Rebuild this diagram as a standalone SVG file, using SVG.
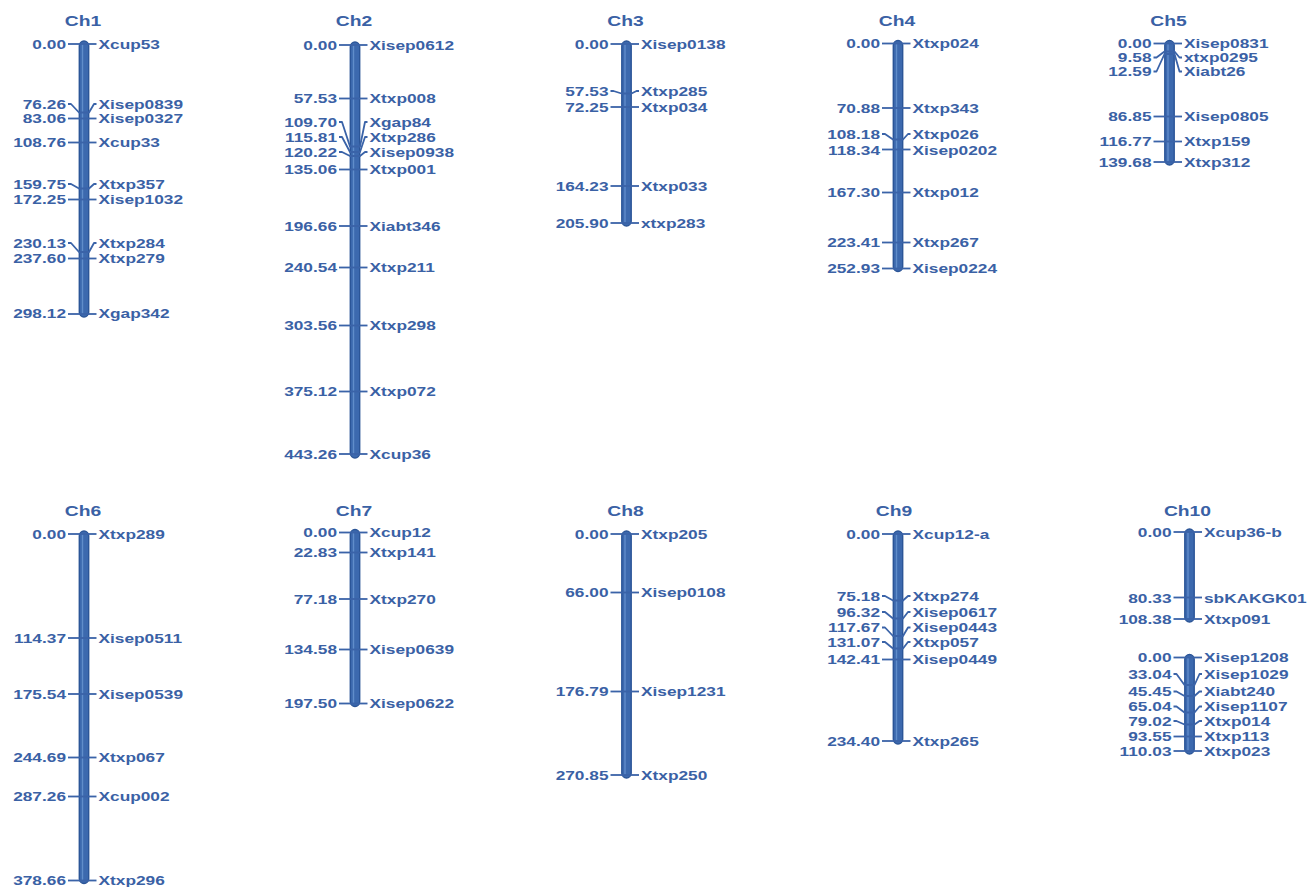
<svg xmlns="http://www.w3.org/2000/svg" width="1309" height="887" viewBox="0 0 1309 887">
<style>
.bar{fill:#3c69ae;stroke:#2b5597;stroke-width:1.4}
.hl{stroke:#6a96d2;stroke-width:1.4;opacity:.8}
.tk{fill:none;stroke:#3a63a8;stroke-width:1.8;stroke-linejoin:round}
.n,.l,.t{font-family:"Liberation Sans",Arial,sans-serif;font-weight:bold;fill:#3a61a5}
.n{font-size:13px;text-anchor:end}
.l{font-size:13px;text-anchor:start}
.t{font-size:14.5px;text-anchor:middle}
</style>
<rect width="1309" height="887" fill="#ffffff"/>

<g id="ch1">
<text class="t" transform="translate(83,26) scale(1.33,1)">Ch1</text>
<rect class="bar" x="79.3" y="41" width="9.4" height="276" rx="4.7"/>
<line class="hl" x1="82.5" y1="44" x2="82.5" y2="314"/>
<g class="tk">
<path d="M68 44H96.5"/>
<path d="M68 104L71 104L79 112.5L89 112.5L94 104L96.5 104"/>
<path d="M68 118.5H96.5"/>
<path d="M68 142.5H96.5"/>
<path d="M68 184L71 184L79 188.5L89 188.5L94 184L96.5 184"/>
<path d="M68 199.5H96.5"/>
<path d="M68 243L71 243L79 252L89 252L94 243L96.5 243"/>
<path d="M68 258.5H96.5"/>
<path d="M68 314H96.5"/>
</g>
<text class="n" transform="translate(66,48.5) scale(1.33,1)">0.00</text>
<text class="l" transform="translate(98.5,48.5) scale(1.33,1)">Xcup53</text>
<text class="n" transform="translate(66,108.5) scale(1.33,1)">76.26</text>
<text class="l" transform="translate(98.5,108.5) scale(1.33,1)">Xisep0839</text>
<text class="n" transform="translate(66,123) scale(1.33,1)">83.06</text>
<text class="l" transform="translate(98.5,123) scale(1.33,1)">Xisep0327</text>
<text class="n" transform="translate(66,147) scale(1.33,1)">108.76</text>
<text class="l" transform="translate(98.5,147) scale(1.33,1)">Xcup33</text>
<text class="n" transform="translate(66,188.5) scale(1.33,1)">159.75</text>
<text class="l" transform="translate(98.5,188.5) scale(1.33,1)">Xtxp357</text>
<text class="n" transform="translate(66,204) scale(1.33,1)">172.25</text>
<text class="l" transform="translate(98.5,204) scale(1.33,1)">Xisep1032</text>
<text class="n" transform="translate(66,247.5) scale(1.33,1)">230.13</text>
<text class="l" transform="translate(98.5,247.5) scale(1.33,1)">Xtxp284</text>
<text class="n" transform="translate(66,263) scale(1.33,1)">237.60</text>
<text class="l" transform="translate(98.5,263) scale(1.33,1)">Xtxp279</text>
<text class="n" transform="translate(66,318) scale(1.33,1)">298.12</text>
<text class="l" transform="translate(98.5,318) scale(1.33,1)">Xgap342</text>
</g>

<g id="ch2">
<text class="t" transform="translate(354,26) scale(1.33,1)">Ch2</text>
<rect class="bar" x="350.3" y="42" width="9.4" height="416" rx="4.7"/>
<line class="hl" x1="353.5" y1="45" x2="353.5" y2="455"/>
<g class="tk">
<path d="M339 45H367.5"/>
<path d="M339 98.5H367.5"/>
<path d="M339 122L342 122L350 146.5L360 146.5L365 122L367.5 122"/>
<path d="M339 137L342 137L350 152L360 152L365 137L367.5 137"/>
<path d="M339 152L342 152L350 156L360 156L365 152L367.5 152"/>
<path d="M339 169.5H367.5"/>
<path d="M339 226H367.5"/>
<path d="M339 267.5H367.5"/>
<path d="M339 325.5H367.5"/>
<path d="M339 391.5H367.5"/>
<path d="M339 454H367.5"/>
</g>
<text class="n" transform="translate(337,49.5) scale(1.33,1)">0.00</text>
<text class="l" transform="translate(369.5,49.5) scale(1.33,1)">Xisep0612</text>
<text class="n" transform="translate(337,103) scale(1.33,1)">57.53</text>
<text class="l" transform="translate(369.5,103) scale(1.33,1)">Xtxp008</text>
<text class="n" transform="translate(337,126.5) scale(1.33,1)">109.70</text>
<text class="l" transform="translate(369.5,126.5) scale(1.33,1)">Xgap84</text>
<text class="n" transform="translate(337,141.5) scale(1.33,1)">115.81</text>
<text class="l" transform="translate(369.5,141.5) scale(1.33,1)">Xtxp286</text>
<text class="n" transform="translate(337,156.5) scale(1.33,1)">120.22</text>
<text class="l" transform="translate(369.5,156.5) scale(1.33,1)">Xisep0938</text>
<text class="n" transform="translate(337,174) scale(1.33,1)">135.06</text>
<text class="l" transform="translate(369.5,174) scale(1.33,1)">Xtxp001</text>
<text class="n" transform="translate(337,230.5) scale(1.33,1)">196.66</text>
<text class="l" transform="translate(369.5,230.5) scale(1.33,1)">Xiabt346</text>
<text class="n" transform="translate(337,272) scale(1.33,1)">240.54</text>
<text class="l" transform="translate(369.5,272) scale(1.33,1)">Xtxp211</text>
<text class="n" transform="translate(337,330) scale(1.33,1)">303.56</text>
<text class="l" transform="translate(369.5,330) scale(1.33,1)">Xtxp298</text>
<text class="n" transform="translate(337,396) scale(1.33,1)">375.12</text>
<text class="l" transform="translate(369.5,396) scale(1.33,1)">Xtxp072</text>
<text class="n" transform="translate(337,458.5) scale(1.33,1)">443.26</text>
<text class="l" transform="translate(369.5,458.5) scale(1.33,1)">Xcup36</text>
</g>

<g id="ch3">
<text class="t" transform="translate(625.5,26) scale(1.33,1)">Ch3</text>
<rect class="bar" x="621.8" y="41" width="9.4" height="185" rx="4.7"/>
<line class="hl" x1="625" y1="44" x2="625" y2="223"/>
<g class="tk">
<path d="M610.5 44H639"/>
<path d="M610.5 91L613.5 91L621.5 93.5L631.5 93.5L636.5 91L639 91"/>
<path d="M610.5 107H639"/>
<path d="M610.5 186H639"/>
<path d="M610.5 223H639"/>
</g>
<text class="n" transform="translate(608.5,48.5) scale(1.33,1)">0.00</text>
<text class="l" transform="translate(641,48.5) scale(1.33,1)">Xisep0138</text>
<text class="n" transform="translate(608.5,95.5) scale(1.33,1)">57.53</text>
<text class="l" transform="translate(641,95.5) scale(1.33,1)">Xtxp285</text>
<text class="n" transform="translate(608.5,111.5) scale(1.33,1)">72.25</text>
<text class="l" transform="translate(641,111.5) scale(1.33,1)">Xtxp034</text>
<text class="n" transform="translate(608.5,190.5) scale(1.33,1)">164.23</text>
<text class="l" transform="translate(641,190.5) scale(1.33,1)">Xtxp033</text>
<text class="n" transform="translate(608.5,227.5) scale(1.33,1)">205.90</text>
<text class="l" transform="translate(641,227.5) scale(1.33,1)">xtxp283</text>
</g>

<g id="ch4">
<text class="t" transform="translate(897,26) scale(1.33,1)">Ch4</text>
<rect class="bar" x="893.3" y="40.5" width="9.4" height="231" rx="4.7"/>
<line class="hl" x1="896.5" y1="43.5" x2="896.5" y2="268.5"/>
<g class="tk">
<path d="M882 43.5H910.5"/>
<path d="M882 108H910.5"/>
<path d="M882 134L885 134L893 139.5L903 139.5L908 134L910.5 134"/>
<path d="M882 149.5H910.5"/>
<path d="M882 192.5H910.5"/>
<path d="M882 242.5H910.5"/>
<path d="M882 268.5H910.5"/>
</g>
<text class="n" transform="translate(880,48) scale(1.33,1)">0.00</text>
<text class="l" transform="translate(912.5,48) scale(1.33,1)">Xtxp024</text>
<text class="n" transform="translate(880,112.5) scale(1.33,1)">70.88</text>
<text class="l" transform="translate(912.5,112.5) scale(1.33,1)">Xtxp343</text>
<text class="n" transform="translate(880,138.5) scale(1.33,1)">108.18</text>
<text class="l" transform="translate(912.5,138.5) scale(1.33,1)">Xtxp026</text>
<text class="n" transform="translate(880,154.5) scale(1.33,1)">118.34</text>
<text class="l" transform="translate(912.5,154.5) scale(1.33,1)">Xisep0202</text>
<text class="n" transform="translate(880,197) scale(1.33,1)">167.30</text>
<text class="l" transform="translate(912.5,197) scale(1.33,1)">Xtxp012</text>
<text class="n" transform="translate(880,247) scale(1.33,1)">223.41</text>
<text class="l" transform="translate(912.5,247) scale(1.33,1)">Xtxp267</text>
<text class="n" transform="translate(880,273) scale(1.33,1)">252.93</text>
<text class="l" transform="translate(912.5,273) scale(1.33,1)">Xisep0224</text>
</g>

<g id="ch5">
<text class="t" transform="translate(1168.5,26) scale(1.33,1)">Ch5</text>
<rect class="bar" x="1164.8" y="40.5" width="9.4" height="124.5" rx="4.7"/>
<line class="hl" x1="1168" y1="43.5" x2="1168" y2="162"/>
<g class="tk">
<path d="M1153.5 43.5H1182"/>
<path d="M1153.5 57.5L1156.5 57.5L1164.5 51.5L1174.5 51.5L1179.5 57.5L1182 57.5"/>
<path d="M1153.5 71.5L1156.5 71.5L1164.5 54L1174.5 54L1179.5 71.5L1182 71.5"/>
<path d="M1153.5 116.5H1182"/>
<path d="M1153.5 141.5H1182"/>
<path d="M1153.5 162H1182"/>
</g>
<text class="n" transform="translate(1151.5,48) scale(1.33,1)">0.00</text>
<text class="l" transform="translate(1184,48) scale(1.33,1)">Xisep0831</text>
<text class="n" transform="translate(1151.5,62) scale(1.33,1)">9.58</text>
<text class="l" transform="translate(1184,62) scale(1.33,1)">xtxp0295</text>
<text class="n" transform="translate(1151.5,76) scale(1.33,1)">12.59</text>
<text class="l" transform="translate(1184,76) scale(1.33,1)">Xiabt26</text>
<text class="n" transform="translate(1151.5,121) scale(1.33,1)">86.85</text>
<text class="l" transform="translate(1184,121) scale(1.33,1)">Xisep0805</text>
<text class="n" transform="translate(1151.5,146) scale(1.33,1)">116.77</text>
<text class="l" transform="translate(1184,146) scale(1.33,1)">Xtxp159</text>
<text class="n" transform="translate(1151.5,166.5) scale(1.33,1)">139.68</text>
<text class="l" transform="translate(1184,166.5) scale(1.33,1)">Xtxp312</text>
</g>

<g id="ch6">
<text class="t" transform="translate(83,516) scale(1.33,1)">Ch6</text>
<rect class="bar" x="79.3" y="531" width="9.4" height="352.5" rx="4.7"/>
<line class="hl" x1="82.5" y1="534" x2="82.5" y2="880.5"/>
<g class="tk">
<path d="M68 534H96.5"/>
<path d="M68 638H96.5"/>
<path d="M68 694H96.5"/>
<path d="M68 757.5H96.5"/>
<path d="M68 796.5H96.5"/>
<path d="M68 880.5H96.5"/>
</g>
<text class="n" transform="translate(66,538.5) scale(1.33,1)">0.00</text>
<text class="l" transform="translate(98.5,538.5) scale(1.33,1)">Xtxp289</text>
<text class="n" transform="translate(66,642.5) scale(1.33,1)">114.37</text>
<text class="l" transform="translate(98.5,642.5) scale(1.33,1)">Xisep0511</text>
<text class="n" transform="translate(66,698.5) scale(1.33,1)">175.54</text>
<text class="l" transform="translate(98.5,698.5) scale(1.33,1)">Xisep0539</text>
<text class="n" transform="translate(66,762) scale(1.33,1)">244.69</text>
<text class="l" transform="translate(98.5,762) scale(1.33,1)">Xtxp067</text>
<text class="n" transform="translate(66,801) scale(1.33,1)">287.26</text>
<text class="l" transform="translate(98.5,801) scale(1.33,1)">Xcup002</text>
<text class="n" transform="translate(66,885) scale(1.33,1)">378.66</text>
<text class="l" transform="translate(98.5,885) scale(1.33,1)">Xtxp296</text>
</g>

<g id="ch7">
<text class="t" transform="translate(354,516) scale(1.33,1)">Ch7</text>
<rect class="bar" x="350.3" y="529.5" width="9.4" height="177" rx="4.7"/>
<line class="hl" x1="353.5" y1="532.5" x2="353.5" y2="703.5"/>
<g class="tk">
<path d="M339 532.5H367.5"/>
<path d="M339 552.5H367.5"/>
<path d="M339 599H367.5"/>
<path d="M339 649.5H367.5"/>
<path d="M339 703.5H367.5"/>
</g>
<text class="n" transform="translate(337,537) scale(1.33,1)">0.00</text>
<text class="l" transform="translate(369.5,537) scale(1.33,1)">Xcup12</text>
<text class="n" transform="translate(337,557) scale(1.33,1)">22.83</text>
<text class="l" transform="translate(369.5,557) scale(1.33,1)">Xtxp141</text>
<text class="n" transform="translate(337,603.5) scale(1.33,1)">77.18</text>
<text class="l" transform="translate(369.5,603.5) scale(1.33,1)">Xtxp270</text>
<text class="n" transform="translate(337,654) scale(1.33,1)">134.58</text>
<text class="l" transform="translate(369.5,654) scale(1.33,1)">Xisep0639</text>
<text class="n" transform="translate(337,708) scale(1.33,1)">197.50</text>
<text class="l" transform="translate(369.5,708) scale(1.33,1)">Xisep0622</text>
</g>

<g id="ch8">
<text class="t" transform="translate(625.5,516) scale(1.33,1)">Ch8</text>
<rect class="bar" x="621.8" y="531" width="9.4" height="247" rx="4.7"/>
<line class="hl" x1="625" y1="534" x2="625" y2="775"/>
<g class="tk">
<path d="M610.5 534H639"/>
<path d="M610.5 592.5H639"/>
<path d="M610.5 691.5H639"/>
<path d="M610.5 775H639"/>
</g>
<text class="n" transform="translate(608.5,538.5) scale(1.33,1)">0.00</text>
<text class="l" transform="translate(641,538.5) scale(1.33,1)">Xtxp205</text>
<text class="n" transform="translate(608.5,597) scale(1.33,1)">66.00</text>
<text class="l" transform="translate(641,597) scale(1.33,1)">Xisep0108</text>
<text class="n" transform="translate(608.5,696) scale(1.33,1)">176.79</text>
<text class="l" transform="translate(641,696) scale(1.33,1)">Xisep1231</text>
<text class="n" transform="translate(608.5,779.5) scale(1.33,1)">270.85</text>
<text class="l" transform="translate(641,779.5) scale(1.33,1)">Xtxp250</text>
</g>

<g id="ch9">
<text class="t" transform="translate(894,516) scale(1.33,1)">Ch9</text>
<rect class="bar" x="893.3" y="531" width="9.4" height="213" rx="4.7"/>
<line class="hl" x1="896.5" y1="534" x2="896.5" y2="741"/>
<g class="tk">
<path d="M882 534H910.5"/>
<path d="M882 596L885 596L893 600.5L903 600.5L908 596L910.5 596"/>
<path d="M882 612L885 612L893 618.5L903 618.5L908 612L910.5 612"/>
<path d="M882 627.5L885 627.5L893 636L903 636L908 627.5L910.5 627.5"/>
<path d="M882 642L885 642L893 648.5L903 648.5L908 642L910.5 642"/>
<path d="M882 659.5H910.5"/>
<path d="M882 741H910.5"/>
</g>
<text class="n" transform="translate(880,538.5) scale(1.33,1)">0.00</text>
<text class="l" transform="translate(912.5,538.5) scale(1.33,1)">Xcup12-a</text>
<text class="n" transform="translate(880,600.5) scale(1.33,1)">75.18</text>
<text class="l" transform="translate(912.5,600.5) scale(1.33,1)">Xtxp274</text>
<text class="n" transform="translate(880,616.5) scale(1.33,1)">96.32</text>
<text class="l" transform="translate(912.5,616.5) scale(1.33,1)">Xisep0617</text>
<text class="n" transform="translate(880,632) scale(1.33,1)">117.67</text>
<text class="l" transform="translate(912.5,632) scale(1.33,1)">Xisep0443</text>
<text class="n" transform="translate(880,646.5) scale(1.33,1)">131.07</text>
<text class="l" transform="translate(912.5,646.5) scale(1.33,1)">Xtxp057</text>
<text class="n" transform="translate(880,664) scale(1.33,1)">142.41</text>
<text class="l" transform="translate(912.5,664) scale(1.33,1)">Xisep0449</text>
<text class="n" transform="translate(880,745.5) scale(1.33,1)">234.40</text>
<text class="l" transform="translate(912.5,745.5) scale(1.33,1)">Xtxp265</text>
</g>

<g id="ch10">
<text class="t" transform="translate(1187.5,516) scale(1.33,1)">Ch10</text>
<rect class="bar" x="1184.8" y="529" width="9.4" height="93" rx="4.7"/>
<line class="hl" x1="1188" y1="532" x2="1188" y2="619"/>
<rect class="bar" x="1184.8" y="654.5" width="9.4" height="99.5" rx="4.7"/>
<line class="hl" x1="1188" y1="657.5" x2="1188" y2="751"/>
<g class="tk">
<path d="M1173.5 532H1202"/>
<path d="M1173.5 597.5H1202"/>
<path d="M1173.5 619H1202"/>
<path d="M1173.5 657.5H1202"/>
<path d="M1173.5 674L1176.5 674L1184.5 685L1194.5 685L1199.5 674L1202 674"/>
<path d="M1173.5 691.5L1176.5 691.5L1184.5 696L1194.5 696L1199.5 691.5L1202 691.5"/>
<path d="M1173.5 706.5L1176.5 706.5L1184.5 712.5L1194.5 712.5L1199.5 706.5L1202 706.5"/>
<path d="M1173.5 721L1176.5 721L1184.5 724.5L1194.5 724.5L1199.5 721L1202 721"/>
<path d="M1173.5 736.5H1202"/>
<path d="M1173.5 751H1202"/>
</g>
<text class="n" transform="translate(1171.5,536.5) scale(1.33,1)">0.00</text>
<text class="l" transform="translate(1204,536.5) scale(1.33,1)">Xcup36-b</text>
<text class="n" transform="translate(1171.5,602.5) scale(1.33,1)">80.33</text>
<text class="l" transform="translate(1204,602.5) scale(1.33,1)">sbKAKGK01</text>
<text class="n" transform="translate(1171.5,623.5) scale(1.33,1)">108.38</text>
<text class="l" transform="translate(1204,623.5) scale(1.33,1)">Xtxp091</text>
<text class="n" transform="translate(1171.5,662) scale(1.33,1)">0.00</text>
<text class="l" transform="translate(1204,662) scale(1.33,1)">Xisep1208</text>
<text class="n" transform="translate(1171.5,678.5) scale(1.33,1)">33.04</text>
<text class="l" transform="translate(1204,678.5) scale(1.33,1)">Xisep1029</text>
<text class="n" transform="translate(1171.5,696) scale(1.33,1)">45.45</text>
<text class="l" transform="translate(1204,696) scale(1.33,1)">Xiabt240</text>
<text class="n" transform="translate(1171.5,711) scale(1.33,1)">65.04</text>
<text class="l" transform="translate(1204,711) scale(1.33,1)">Xisep1107</text>
<text class="n" transform="translate(1171.5,725.5) scale(1.33,1)">79.02</text>
<text class="l" transform="translate(1204,725.5) scale(1.33,1)">Xtxp014</text>
<text class="n" transform="translate(1171.5,740.5) scale(1.33,1)">93.55</text>
<text class="l" transform="translate(1204,740.5) scale(1.33,1)">Xtxp113</text>
<text class="n" transform="translate(1171.5,755.5) scale(1.33,1)">110.03</text>
<text class="l" transform="translate(1204,755.5) scale(1.33,1)">Xtxp023</text>
</g>
</svg>
